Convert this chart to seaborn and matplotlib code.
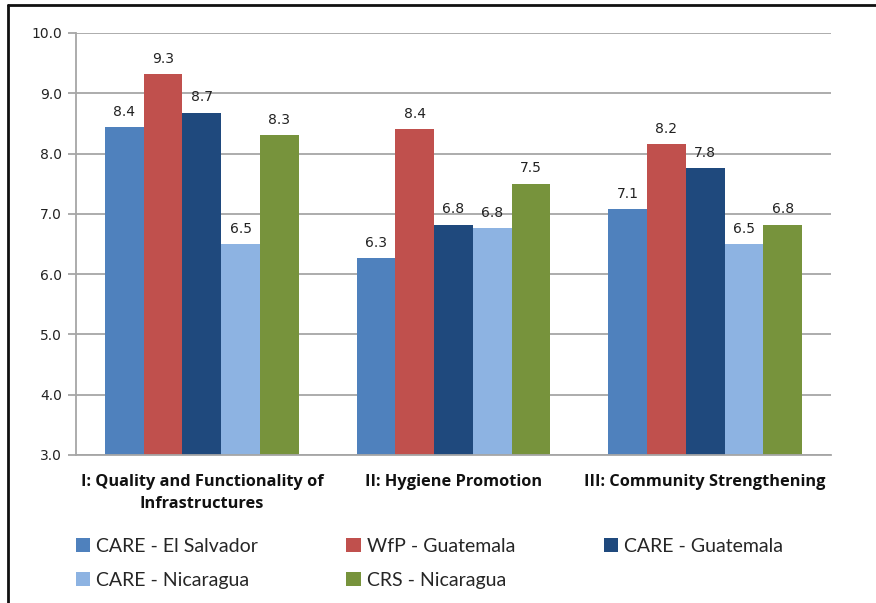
import matplotlib
matplotlib.use("Agg")
import matplotlib.pyplot as plt
import seaborn as sns
import pandas as pd
from matplotlib.patches import Patch
from matplotlib.lines import Line2D

categories = ["I: Quality and Functionality of\nInfrastructures",
              "II: Hygiene Promotion",
              "III: Community Strengthening"]
series = ["CARE - El Salvador", "WfP - Guatemala", "CARE - Guatemala",
          "CARE - Nicaragua", "CRS - Nicaragua"]
care_es = [8.44, 6.26, 7.08]
wfp_gt = [9.32, 8.40, 8.16]
care_gt = [8.68, 6.82, 7.76]
care_ni = [6.50, 6.76, 6.50]
crs_ni = [8.31, 7.50, 6.82]
colors = ["#4F81BD", "#C0504D", "#1F497D", "#8DB3E2", "#77933C"]
yticks = [3.0, 4.0, 5.0, 6.0, 7.0, 8.0, 9.0, 10.0]

values = [care_es, wfp_gt, care_gt, care_ni, crs_ni]
rows = []
for s, vals in zip(series, values):
    for c, v in zip(categories, vals):
        rows.append({"category": c, "series": s, "value": v})
df = pd.DataFrame(rows)

sns.set_theme(style="white")
fig = plt.figure(figsize=(8.76, 6.03), dpi=100)
ax = fig.add_axes([76/876, 1-455/603, (831-76)/876, (455-33)/603])

sns.barplot(data=df, x="category", y="value", hue="series", order=categories,
            hue_order=series, palette=colors, width=0.77, ax=ax,
            linewidth=0, saturation=1, legend=False, errorbar=None)

ax.set_ylim(3, 10)
ax.set_xlim(-0.5, 2.5)
ax.set_yticks(yticks)
ax.set_yticklabels([f"{t:.1f}" for t in yticks], fontsize=10, color="#222222",
                   family="DejaVu Sans")
ax.yaxis.grid(True, color="#A6A6A6", linewidth=1.3)
ax.set_axisbelow(True)
ax.set_xlabel("")
ax.set_ylabel("")
for lab in ax.get_xticklabels():
    lab.set_fontsize(11.8)
    lab.set_fontweight("bold")
    lab.set_family("Open Sans")
    lab.set_color("#111111")
    lab.set_linespacing(1.5)
ax.tick_params(axis="x", which="major", length=0, pad=14)
ax.set_xticks([-0.5, 0.5, 1.5, 2.5], minor=True)
ax.tick_params(axis="x", which="minor", length=6, color="#A6A6A6", width=1.3)
ax.tick_params(axis="y", length=6, color="#A6A6A6", width=1.3, left=True, pad=4)
for side in ["top", "right"]:
    ax.spines[side].set_visible(False)
for side in ["left", "bottom"]:
    ax.spines[side].set_color("#A6A6A6")
    ax.spines[side].set_linewidth(1.3)

for cont in ax.containers:
    ax.bar_label(cont, labels=[f"{b.get_height():.1f}" for b in cont],
                 padding=6, fontsize=10, family="DejaVu Sans", color="#222222")

handles = [Patch(facecolor=c, edgecolor="none") for c in colors]
order = [0, 3, 1, 4, 2]
fig.legend([handles[i] for i in order], [series[i] for i in order],
           ncol=3, loc="upper left", bbox_to_anchor=(58/876, 1-520/603),
           frameon=False, handlelength=0.75, handleheight=0.75,
           handletextpad=0.3, columnspacing=4.55, labelspacing=0.9,
           prop={"family": "Lato", "size": 14})

fig.add_artist(Line2D([8/876, 8/876], [0, 1-5/603], transform=fig.transFigure,
                      color="#111111", linewidth=2))
fig.add_artist(Line2D([8/876, 1], [1-5/603, 1-5/603], transform=fig.transFigure,
                      color="#111111", linewidth=2))

fig.savefig("out.png", dpi=100)
